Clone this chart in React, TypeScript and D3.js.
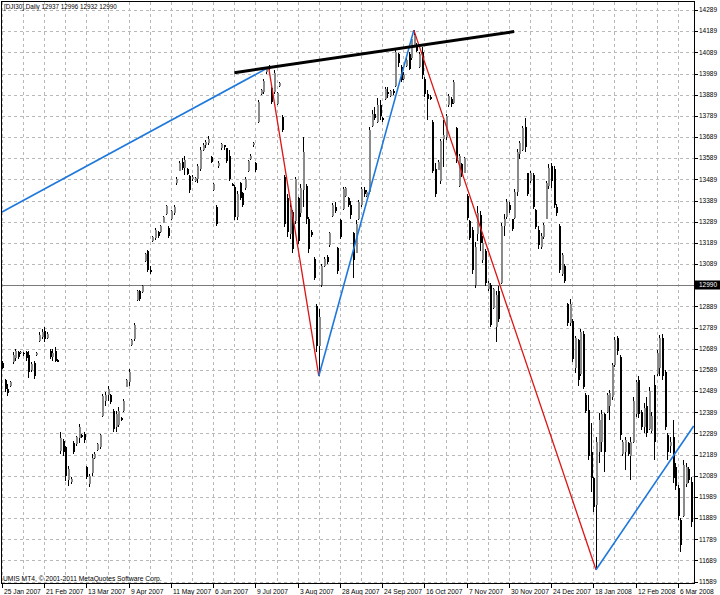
import * as d3 from 'd3';

// [open, high, low, close], one row per daily bar, grouped by the date label it starts at
type Bar = [number, number, number, number];

const from25Jan2007: Bar[] = [
  [12620, 12632, 12593, 12600], [12540, 12546, 12483, 12500], [12500, 12522, 12467, 12480], [12515, 12538, 12506, 12530],
  [12625, 12672, 12617, 12660], [12645, 12687, 12632, 12680], [12675, 12680, 12640, 12650], [12670, 12680, 12664, 12675],
  [12668, 12675, 12656, 12662], [12672, 12680, 12632, 12645], [12660, 12680, 12553, 12580], [12590, 12624, 12577, 12615],
  [12620, 12632, 12546, 12560], [12660, 12675, 12656, 12670], [12725, 12766, 12719, 12755], [12745, 12782, 12735, 12770],
];
const from21Feb2007: Bar[] = [
  [12775, 12790, 12719, 12735], [12740, 12766, 12735, 12760], [12680, 12687, 12640, 12648], [12650, 12687, 12632, 12670],
  [12680, 12695, 12624, 12630], [12635, 12640, 12624, 12628], [12205, 12294, 12191, 12265], [12255, 12262, 12183, 12200],
  [12225, 12231, 12065, 12090], [12070, 12136, 12042, 12120], [12060, 12081, 12050, 12075], [12245, 12254, 12191, 12200],
  [12240, 12278, 12231, 12270], [12265, 12333, 12246, 12320], [12280, 12286, 12265, 12272], [12285, 12294, 12246, 12260],
];
const from13Mar2007: Bar[] = [
  [12130, 12136, 12073, 12085], [12050, 12097, 12034, 12090], [12100, 12191, 12089, 12175], [12175, 12199, 12168, 12190],
  [12210, 12246, 12207, 12240], [12225, 12286, 12215, 12280], [12370, 12475, 12365, 12465], [12440, 12483, 12420, 12470],
  [12470, 12514, 12443, 12500], [12470, 12475, 12428, 12435], [12395, 12404, 12294, 12310], [12320, 12396, 12294, 12380],
  [12330, 12412, 12317, 12395], [12360, 12365, 12349, 12352], [12395, 12451, 12388, 12440], [12510, 12546, 12506, 12540],
];
const from9Apr2007: Bar[] = [
  [12530, 12593, 12514, 12580], [12705, 12735, 12700, 12730], [12735, 12810, 12725, 12800], [12920, 12968, 12913, 12960],
  [12960, 12968, 12913, 12925], [12955, 12991, 12952, 12985], [13105, 13140, 13100, 13135], [13150, 13157, 13050, 13060],
  [13060, 13080, 13040, 13050], [13200, 13220, 13195, 13215], [13210, 13259, 13204, 13250], [13240, 13243, 13212, 13220],
  [13240, 13275, 13235, 13270], [13285, 13314, 13283, 13310], [13325, 13369, 13322, 13365], [13260, 13267, 13212, 13220],
];
const from11May2007: Bar[] = [
  [13300, 13346, 13298, 13340], [13330, 13369, 13322, 13360], [13470, 13500, 13464, 13490], [13530, 13574, 13527, 13565],
  [13570, 13590, 13535, 13545], [13545, 13598, 13511, 13580], [13540, 13543, 13511, 13515], [13505, 13511, 13424, 13440],
  [13490, 13511, 13480, 13500], [13480, 13500, 13475, 13495], [13490, 13560, 13470, 13550], [13540, 13640, 13530, 13630],
  [13630, 13661, 13621, 13650], [13650, 13676, 13637, 13665], [13660, 13692, 13653, 13680], [13595, 13601, 13566, 13570],
];
const from6Jun2007: Bar[] = [
  [13440, 13472, 13432, 13465], [13360, 13369, 13267, 13280], [13550, 13574, 13543, 13565], [13635, 13661, 13630, 13655],
  [13650, 13653, 13630, 13640], [13635, 13637, 13566, 13575], [13600, 13630, 13480, 13490], [13468, 13472, 13456, 13460],
  [13455, 13461, 13298, 13310], [13310, 13432, 13298, 13420], [13470, 13478, 13390, 13400], [13425, 13430, 13360, 13370],
  [13450, 13500, 13440, 13490], [13530, 13580, 13524, 13575], [13585, 13611, 13580, 13600], [13650, 13666, 13643, 13660],
];
const from9Jul2007: Bar[] = [
  [13565, 13572, 13524, 13535], [13760, 13863, 13753, 13855], [13890, 13918, 13887, 13910], [13900, 13965, 13894, 13955],
  [13995, 14020, 13989, 14015], [14010, 14028, 14005, 14020], [13920, 13926, 13847, 13855], [13900, 14005, 13890, 13990],
  [13845, 13902, 13839, 13895], [13930, 13950, 13926, 13945], [13785, 13792, 13713, 13720], [13500, 13509, 13265, 13280],
  [13400, 13422, 13217, 13240], [13230, 13375, 13209, 13360], [13335, 13343, 13139, 13160], [13290, 13501, 13280, 13490],
];
const from3Aug2007: Bar[] = [
  [13400, 13406, 13186, 13200], [13330, 13469, 13312, 13450], [13440, 13690, 13359, 13620], [13460, 13469, 13280, 13300],
  [13300, 13312, 13139, 13160], [13240, 13249, 13217, 13225], [13115, 13123, 13013, 13025], [12890, 12902, 12674, 12700],
  [12700, 12879, 12560, 12840], [12990, 13091, 12981, 13080], [13080, 13123, 13075, 13115], [13120, 13131, 13091, 13100],
  [13180, 13241, 13170, 13235], [13315, 13375, 13312, 13370], [13360, 13380, 13330, 13340], [13165, 13170, 13044, 13055],
];
const from28Aug2007: Bar[] = [
  [13295, 13304, 13209, 13215], [13350, 13454, 13343, 13445], [13410, 13454, 13406, 13450], [13400, 13406, 13359, 13370],
  [13370, 13385, 13300, 13320], [13235, 13240, 13025, 13110], [13140, 13296, 13139, 13280], [13300, 13390, 13296, 13380],
  [13370, 13454, 13359, 13445], [13440, 13454, 13406, 13420], [13410, 13438, 13406, 13430], [13430, 13737, 13422, 13720],
  [13740, 13816, 13737, 13800], [13800, 13832, 13769, 13780], [13760, 13871, 13753, 13840], [13840, 13863, 13769, 13790],
];
const from24Sep2007: Bar[] = [
  [13780, 13784, 13761, 13770], [13870, 13926, 13863, 13915], [13900, 13926, 13871, 13890], [13885, 13910, 13879, 13905],
  [13905, 13918, 13887, 13895], [13930, 14100, 13926, 14090], [14080, 14084, 14020, 14040], [14020, 14028, 13950, 13960],
  [13965, 13997, 13957, 13980], [14025, 14060, 14020, 14055], [14080, 14091, 14005, 14010], [14060, 14162, 14052, 14150],
  [14120, 14194, 14115, 14170], [14125, 14131, 14091, 14095], [14020, 14091, 14013, 14080], [14090, 14115, 13965, 13980],
];
const from16Oct2007: Bar[] = [
  [13965, 13973, 13879, 13890], [13890, 13910, 13769, 13870], [13880, 13887, 13863, 13870], [13760, 13769, 13517, 13530],
  [13540, 13564, 13406, 13420], [13535, 13580, 13532, 13570], [13480, 13682, 13469, 13670], [13680, 13769, 13548, 13700],
  [13690, 13800, 13674, 13790], [13840, 13894, 13832, 13885], [13870, 13879, 13832, 13845], [13850, 13958, 13847, 13950],
  [13730, 13737, 13564, 13575], [13460, 13611, 13453, 13600], [13560, 13564, 13501, 13510], [13520, 13596, 13517, 13590],
];
const from7Nov2007: Bar[] = [
  [13410, 13422, 13296, 13305], [13290, 13296, 13202, 13210], [13250, 13265, 13044, 13060], [12990, 13191, 12978, 13170],
  [13230, 13364, 13200, 13330], [13320, 13340, 13150, 13190], [13110, 13222, 13096, 13190], [13150, 13159, 12986, 13000],
  [12970, 13009, 12962, 13000], [12990, 13001, 12790, 12800], [12880, 12978, 12875, 12970], [12790, 12960, 12720, 12945],
  [12960, 12986, 12813, 12830], [13000, 13285, 12994, 13270], [13270, 13324, 13222, 13300], [13310, 13395, 13301, 13380],
];
const from30Nov2007: Bar[] = [
  [13370, 13380, 13332, 13345], [13300, 13301, 13246, 13255], [13305, 13442, 13301, 13430], [13430, 13632, 13411, 13620],
  [13610, 13671, 13584, 13660], [13630, 13742, 13624, 13730], [13735, 13780, 13620, 13640], [13520, 13521, 13411, 13420],
  [13480, 13529, 13474, 13520], [13510, 13521, 13348, 13360], [13345, 13348, 13254, 13265], [13250, 13269, 13159, 13180],
  [13170, 13238, 13159, 13220], [13215, 13285, 13206, 13275], [13300, 13482, 13300, 13470], [13460, 13561, 13443, 13545],
];
const from24Dec2007: Bar[] = [
  [13550, 13565, 13450, 13480], [13540, 13553, 13356, 13370], [13360, 13372, 13316, 13330], [13270, 13277, 13049, 13060],
  [13040, 13143, 13033, 13130], [13080, 13088, 13001, 13010], [12900, 12907, 12797, 12810], [12810, 12923, 12797, 12900],
  [12820, 12828, 12624, 12640], [12600, 12750, 12576, 12740], [12730, 12734, 12513, 12540], [12570, 12781, 12560, 12770],
  [12760, 12773, 12498, 12510], [12470, 12479, 12384, 12395], [12400, 12471, 12164, 12180], [12200, 12337, 12014, 12080],
];
const from18Jan2008: Bar[] = [
  [12080, 12085, 11920, 11940], [11950, 12274, 11645, 12250], [12200, 12384, 12148, 12350], [12250, 12400, 12203, 12380],
  [12380, 12384, 12109, 12200], [12390, 12479, 12384, 12470], [12420, 12495, 12353, 12480], [12460, 12620, 12447, 12610],
  [12610, 12746, 12605, 12730], [12740, 12750, 12660, 12680], [12650, 12660, 12260, 12280], [12190, 12258, 12180, 12250],
  [12200, 12274, 12117, 12260], [12245, 12250, 12180, 12190], [12180, 12274, 12070, 12250], [12250, 12463, 12243, 12440],
];
const from12Feb2008: Bar[] = [
  [12380, 12542, 12368, 12530], [12540, 12560, 12360, 12380], [12390, 12400, 12305, 12320], [12320, 12431, 12290, 12410],
  [12420, 12463, 12274, 12290], [12310, 12510, 12305, 12490], [12300, 12390, 12290, 12370], [12520, 12565, 12164, 12250],
  [12570, 12684, 12560, 12670], [12600, 12754, 12560, 12740], [12740, 12760, 12540, 12560], [12580, 12590, 12305, 12320],
  [12280, 12290, 12164, 12200], [12230, 12274, 12195, 12250], [12270, 12353, 12053, 12080], [12130, 12148, 12022, 12040],
];
const from6Mar2008: Bar[] = [
  [12030, 12045, 11880, 11900], [11880, 11890, 11731, 11760], [11900, 12164, 11896, 12140], [12050, 12148, 12038, 12130],
  [12120, 12132, 12053, 12070], [12060, 12085, 11849, 11870], [11870, 11945, 11740, 11780],
];

// one date label every 16 bars
const dateLabels = [
  '25 Jan 2007', '21 Feb 2007', '13 Mar 2007', '9 Apr 2007', '11 May 2007', '6 Jun 2007', '9 Jul 2007',
  '3 Aug 2007', '28 Aug 2007', '24 Sep 2007', '16 Oct 2007', '7 Nov 2007', '30 Nov 2007', '24 Dec 2007',
  '18 Jan 2008', '12 Feb 2008', '6 Mar 2008',
];
const priceTicks = [
  14289, 14189, 14089, 13989, 13889, 13789, 13689, 13589, 13489, 13389, 13289, 13189, 13089, 12989,
  12889, 12789, 12689, 12589, 12489, 12389, 12289, 12189, 12089, 11989, 11889, 11789, 11689, 11589,
];

// zigzag pivots [bar index, price] and the drawn resistance line
const zigzag = [[0, 13335], [101, 14018], [120, 12560], [156, 14194], [225, 11645], [262, 12324]];
const resistance = [[88, 13993], [194, 14187]];

const headerQuote = [12937, 12996, 12932, 12990];
const lastPrice = 12990;

export default function App() {
  const W = 720, H = 595;
  const left = 1.5, right = 694.5, top = 1.5, bottom = 583.5;

  const bars: Bar[] = [
    ...from25Jan2007, ...from21Feb2007, ...from13Mar2007, ...from9Apr2007, ...from11May2007,
    ...from6Jun2007, ...from9Jul2007, ...from3Aug2007, ...from28Aug2007, ...from24Sep2007,
    ...from16Oct2007, ...from7Nov2007, ...from30Nov2007, ...from24Dec2007, ...from18Jan2008,
    ...from12Feb2008, ...from6Mar2008,
  ];

  const x = d3.scaleLinear().domain([0, 256]).range([2, 2 + 2.64 * 256]);
  const y = d3.scaleLinear().domain([11589, 14289]).range([581.6, 10]);
  const line = d3.line<number[]>().x(d => x(d[0])).y(d => y(d[1]));

  const font = 'Liberation Sans, Arial, sans-serif';
  const gridColor = '#b8b8b8';
  const vGrid = d3.range(0, bars.length, 8);
  const px = (v: number) => Math.round(v) + 0.5;

  return (
    <svg width={W} height={H} style={{ position: 'absolute', left: 0, top: 0, background: '#fff' }}
      fontFamily={font}>
      <defs>
        <clipPath id="plot">
          <rect x={left} y={top} width={right - left} height={bottom - top} />
        </clipPath>
      </defs>
      <rect x={0} y={0} width={W} height={H} fill="#fff" />

      {/* grid */}
      <g stroke={gridColor} strokeWidth={1} strokeDasharray="3,3" shapeRendering="crispEdges">
        {priceTicks.map(p => (
          <line key={'h' + p} x1={left} x2={right} y1={px(y(p))} y2={px(y(p))} />
        ))}
        {vGrid.map(i => (
          <line key={'v' + i} x1={px(x(i))} x2={px(x(i))} y1={top} y2={bottom} />
        ))}
      </g>

      {/* current price line */}
      <line x1={left} x2={right} y1={px(y(lastPrice))} y2={px(y(lastPrice))} stroke="#7a7a7a"
        strokeWidth={1} shapeRendering="crispEdges" />

      {/* candles */}
      <g clipPath="url(#plot)" shapeRendering="crispEdges">
        {bars.map(([o, h, l, c], i) => {
          const cx = Math.round(x(i));
          const up = c >= o;
          const yTop = y(Math.max(o, c));
          const yBot = y(Math.min(o, c));
          return (
            <g key={i}>
              <line x1={cx + 0.5} x2={cx + 0.5} y1={y(h)} y2={y(l)} stroke="#000" strokeWidth={1} />
              <rect x={cx - 0.5} y={yTop} width={2} height={Math.max(1, yBot - yTop)}
                fill={up ? '#8a8a8a' : '#000'} />
            </g>
          );
        })}
      </g>

      {/* trend lines */}
      <g clipPath="url(#plot)" fill="none">
        {zigzag.slice(1).map((pt, k) => {
          const prev = zigzag[k];
          const rising = pt[1] > prev[1];
          return (
            <path key={'z' + k} d={line([prev, pt]) || ''} stroke={rising ? '#1e78dc' : '#dc1414'}
              strokeWidth={rising ? 1.6 : 1.3} />
          );
        })}
        <path d={line(resistance) || ''} stroke="#000" strokeWidth={3} />
      </g>

      {/* frame */}
      <rect x={left} y={top} width={right - left} height={bottom - top} fill="none" stroke="#000"
        strokeWidth={1} shapeRendering="crispEdges" />

      {/* right price axis */}
      <g fontSize={6.5} fill="#000">
        {priceTicks.map(p => (
          <g key={'t' + p}>
            <line x1={right} x2={right + 3} y1={px(y(p))} y2={px(y(p))} stroke="#000" shapeRendering="crispEdges" />
            <text x={699} y={y(p) + 2.3}>{p}</text>
          </g>
        ))}
      </g>
      <rect x={right + 0.5} y={px(y(lastPrice)) - 5} width={W - right} height={9} fill="#000" />
      <text x={699} y={y(lastPrice) + 2.3} fontSize={6.5} fill="#fff">{lastPrice}</text>

      {/* date axis */}
      <g fontSize={6.7} fill="#000">
        {dateLabels.map((d, k) => {
          const tx = px(x(k * 16));
          return (
            <g key={d}>
              <line x1={tx} x2={tx} y1={bottom} y2={bottom + 4} stroke="#000" shapeRendering="crispEdges" />
              <text x={tx + 1.5} y={593.5}>{d}</text>
            </g>
          );
        })}
      </g>

      {/* captions */}
      <text x={4} y={9} fontSize={6.3} fill="#000">
        {'[DJI30],Daily  ' + headerQuote.join(' ')}
      </text>
      <text x={3} y={580.5} fontSize={6.7} fill="#000">
        UMIS MT4, © 2001-2011 MetaQuotes Software Corp.
      </text>
    </svg>
  );
}
